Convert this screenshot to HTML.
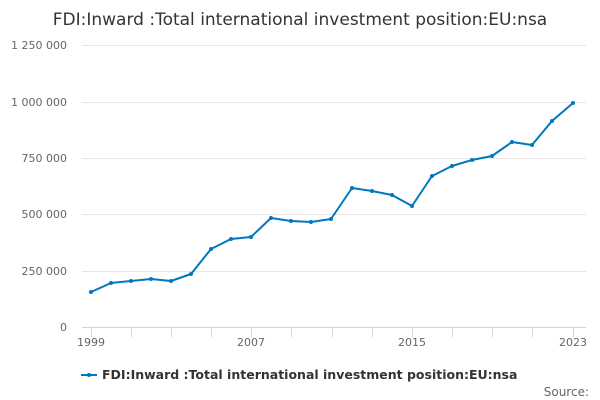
<!DOCTYPE html>
<html><head><meta charset="utf-8"><style>
body{margin:0;background:#fff;}
svg{display:block;font-family:"DejaVu Sans","Liberation Sans",sans-serif;}
</style></head><body>
<svg width="600" height="400" viewBox="0 0 600 400">
<text x="300" y="25" text-anchor="middle" font-size="17" fill="#333">FDI:Inward :Total international investment position:EU:nsa</text>
<g stroke="#e6e6e6" stroke-width="1">
<line x1="82" x2="586" y1="45.5" y2="45.5"/>
<line x1="82" x2="586" y1="102.5" y2="102.5"/>
<line x1="82" x2="586" y1="158.5" y2="158.5"/>
<line x1="82" x2="586" y1="214.5" y2="214.5"/>
<line x1="82" x2="586" y1="271.5" y2="271.5"/>
</g>
<line x1="82" x2="586" y1="327.5" y2="327.5" stroke="#ccd6eb"/>
<g stroke="#ccd6eb">
<line x1="91.5" x2="91.5" y1="327" y2="337"/><line x1="131.5" x2="131.5" y1="327" y2="337"/><line x1="171.5" x2="171.5" y1="327" y2="337"/><line x1="211.5" x2="211.5" y1="327" y2="337"/><line x1="251.5" x2="251.5" y1="327" y2="337"/><line x1="291.5" x2="291.5" y1="327" y2="337"/><line x1="332.5" x2="332.5" y1="327" y2="337"/><line x1="372.5" x2="372.5" y1="327" y2="337"/><line x1="412.5" x2="412.5" y1="327" y2="337"/><line x1="452.5" x2="452.5" y1="327" y2="337"/><line x1="492.5" x2="492.5" y1="327" y2="337"/><line x1="532.5" x2="532.5" y1="327" y2="337"/><line x1="573.5" x2="573.5" y1="327" y2="337"/>
</g>
<g font-size="11" fill="#666" text-anchor="end">
<text x="67" y="49">1 250 000</text>
<text x="67" y="106">1 000 000</text>
<text x="67" y="162">750 000</text>
<text x="67" y="218">500 000</text>
<text x="67" y="275">250 000</text>
<text x="67" y="331">0</text>
</g>
<g font-size="11" fill="#666" text-anchor="middle">
<text x="91" y="346">1999</text><text x="251" y="346">2007</text><text x="412" y="346">2015</text><text x="573" y="346">2023</text>
</g>
<polyline fill="none" stroke="#0077c0" stroke-width="2" stroke-linejoin="round" points="91,292 111,283 131,281 151,279 171,281 191,274 211,249 231,239 251,237 271,218 291,221 311,222 331,219 352,188 372,191 392,195 412,206 432,176 452,166 472,160 492,156 512,142 532,145 552,121 573,103"/>
<g fill="#0077c0">
<circle cx="91" cy="292" r="2"/><circle cx="111" cy="283" r="2"/><circle cx="131" cy="281" r="2"/><circle cx="151" cy="279" r="2"/><circle cx="171" cy="281" r="2"/><circle cx="191" cy="274" r="2"/><circle cx="211" cy="249" r="2"/><circle cx="231" cy="239" r="2"/><circle cx="251" cy="237" r="2"/><circle cx="271" cy="218" r="2"/><circle cx="291" cy="221" r="2"/><circle cx="311" cy="222" r="2"/><circle cx="331" cy="219" r="2"/><circle cx="352" cy="188" r="2"/><circle cx="372" cy="191" r="2"/><circle cx="392" cy="195" r="2"/><circle cx="412" cy="206" r="2"/><circle cx="432" cy="176" r="2"/><circle cx="452" cy="166" r="2"/><circle cx="472" cy="160" r="2"/><circle cx="492" cy="156" r="2"/><circle cx="512" cy="142" r="2"/><circle cx="532" cy="145" r="2"/><circle cx="552" cy="121" r="2"/><circle cx="573" cy="103" r="2"/>
</g>
<line x1="81" x2="97" y1="375" y2="375" stroke="#0077c0" stroke-width="2"/>
<circle cx="89" cy="375" r="2" fill="#0077c0"/>
<text x="102" y="379" font-size="12.5" font-weight="bold" fill="#333">FDI:Inward :Total international investment position:EU:nsa</text>
<text x="589" y="396" font-size="12" fill="#666" text-anchor="end">Source:</text>
</svg>
</body></html>
